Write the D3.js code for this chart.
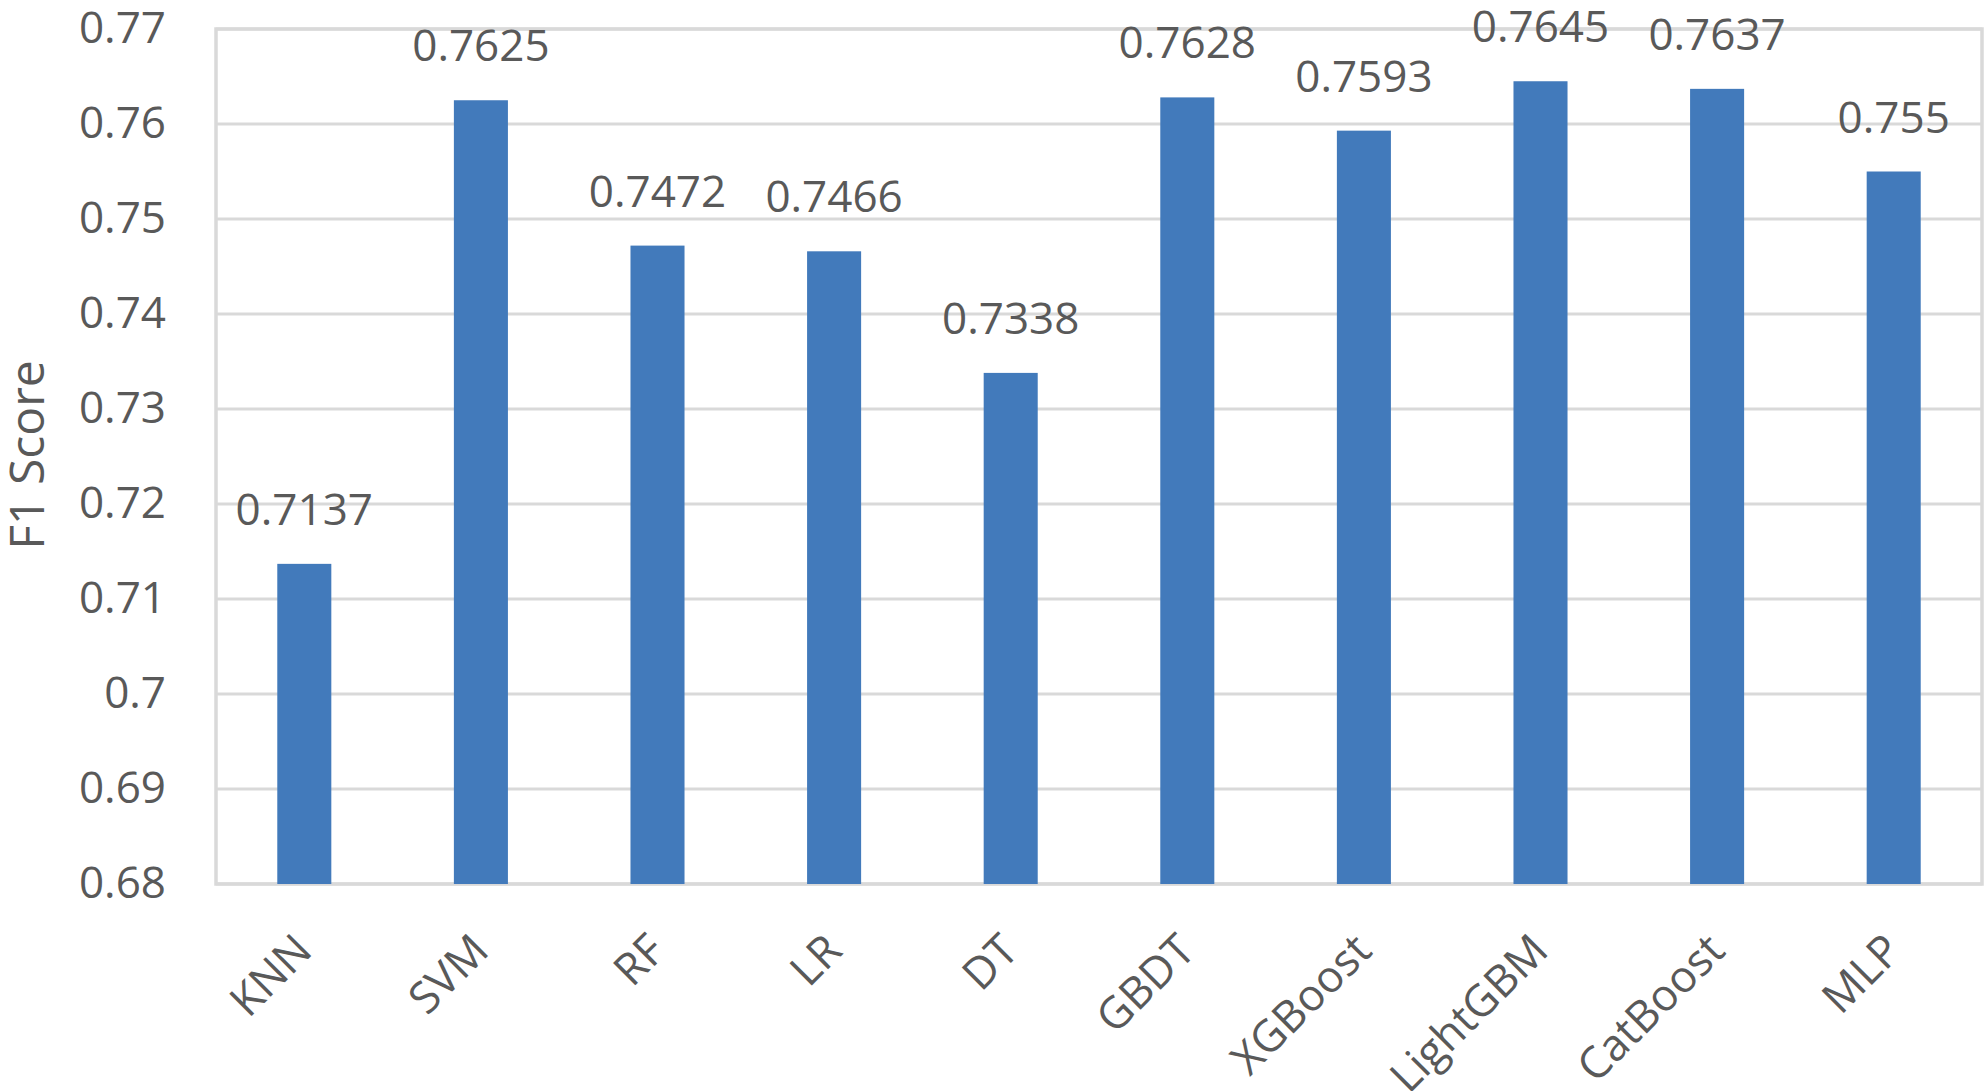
<!DOCTYPE html>
<html>
<head>
<meta charset="utf-8">
<script src="https://cdn.jsdelivr.net/npm/d3@7"></script>
<style>
  html, body { margin: 0; padding: 0; background: #fff; }
  svg { display: block; }
  text { font-family: "Open Sans", sans-serif; fill: #595959; }
</style>
</head>
<body>
<svg id="chart" width="1986" height="1091"></svg>
<script>
const categories = ["KNN", "SVM", "RF", "LR", "DT", "GBDT", "XGBoost", "LightGBM", "CatBoost", "MLP"];
const values = [0.7137, 0.7625, 0.7472, 0.7466, 0.7338, 0.7628, 0.7593, 0.7645, 0.7637, 0.755];
const labels = ["0.7137", "0.7625", "0.7472", "0.7466", "0.7338", "0.7628", "0.7593", "0.7645", "0.7637", "0.755"];
const yTicks = [0.68, 0.69, 0.70, 0.71, 0.72, 0.73, 0.74, 0.75, 0.76, 0.77];
const yTickLabels = ["0.68", "0.69", "0.7", "0.71", "0.72", "0.73", "0.74", "0.75", "0.76", "0.77"];
const yTitle = "F1 Score";

const W = 1986, H = 1091;
const m = { left: 216, top: 29, right: 4, bottom: 207 };
const svg = d3.select("#chart");

const x = d3.scaleBand().domain(categories)
  .range([m.left, W - m.right])
  .paddingInner(0.694).paddingOuter(0.347);
const y = d3.scaleLinear().domain([0.68, 0.77]).range([H - m.bottom, m.top]);

const gridColor = "#d9d9d9";

// gridlines
svg.append("g").selectAll("line").data(yTicks).join("line")
  .attr("x1", m.left).attr("x2", W - m.right)
  .attr("y1", d => y(d)).attr("y2", d => y(d))
  .attr("stroke", gridColor).attr("stroke-width", 3);

// plot border
svg.append("rect")
  .attr("x", m.left).attr("y", m.top)
  .attr("width", W - m.right - m.left).attr("height", H - m.bottom - m.top)
  .attr("fill", "none").attr("stroke", gridColor).attr("stroke-width", 3.5);

// bars
svg.append("g").selectAll("rect").data(values).join("rect")
  .attr("x", (d, i) => x(categories[i]))
  .attr("width", x.bandwidth())
  .attr("y", d => y(d))
  .attr("height", d => y(0.68) - y(d))
  .attr("fill", "#427abb");

// data labels
svg.append("g").selectAll("text").data(values).join("text")
  .attr("x", (d, i) => x(categories[i]) + x.bandwidth() / 2)
  .attr("y", d => y(d) - 39)
  .attr("text-anchor", "middle")
  .style("font-size", "44px")
  .text((d, i) => labels[i]);

// y tick labels
svg.append("g").selectAll("text").data(yTicks).join("text")
  .attr("x", 166)
  .attr("y", d => y(d))
  .attr("dy", "0.32em")
  .attr("text-anchor", "end")
  .style("font-size", "44px")
  .text((d, i) => yTickLabels[i]);

// x labels
svg.append("g").selectAll("text").data(categories).join("text")
  .attr("transform", d => `translate(${x(d) + x.bandwidth() / 2 + 10},953) rotate(-45)`)
  .attr("text-anchor", "end")
  .style("font-size", "44px")
  .text(d => d);

// y title
svg.append("text")
  .attr("transform", `translate(44,455) rotate(-90)`)
  .attr("text-anchor", "middle")
  .style("font-size", "48px")
  .text(yTitle);
</script>
</body>
</html>
